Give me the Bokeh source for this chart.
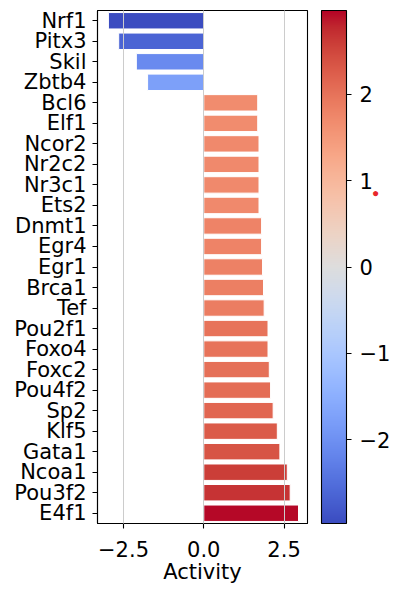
import numpy as np
from bokeh.plotting import figure
from bokeh.models import (ColumnDataSource, FactorRange, Range1d, FixedTicker,
                          CustomJSTickFormatter, LinearColorMapper, ColorBar, Label)
from bokeh.embed import file_html
from bokeh.resources import INLINE

# ---- data ----
names = ["Nrf1", "Pitx3", "Skil", "Zbtb4", "Bcl6", "Elf1", "Ncor2", "Nr2c2", "Nr3c1",
         "Ets2", "Dnmt1", "Egr4", "Egr1", "Brca1", "Tef", "Pou2f1", "Foxo4", "Foxc2",
         "Pou4f2", "Sp2", "Klf5", "Gata1", "Ncoa1", "Pou3f2", "E4f1"]
activity = [-2.97, -2.65, -2.10, -1.75, 1.68, 1.68, 1.72, 1.72, 1.72,
            1.72, 1.80, 1.80, 1.83, 1.86, 1.88, 2.00, 2.00, 2.04,
            2.08, 2.16, 2.29, 2.37, 2.60, 2.69, 2.95]
x_ticks = [-2.5, 0.0, 2.5]
cbar_ticks = [-2, -1, 0, 1, 2]
axis_title = "Activity"

# coolwarm reference table (Moreland)
cw = np.array([
    [59, 76, 192], [68, 90, 204], [77, 104, 215], [87, 117, 225], [98, 130, 234],
    [108, 142, 241], [119, 154, 247], [130, 165, 251], [141, 176, 254], [152, 185, 255],
    [163, 194, 255], [174, 201, 253], [184, 208, 249], [194, 213, 244], [204, 217, 238],
    [213, 219, 230], [221, 221, 221], [229, 216, 209], [236, 211, 197], [241, 204, 185],
    [245, 196, 173], [247, 187, 160], [247, 177, 148], [247, 166, 135], [244, 154, 123],
    [241, 141, 111], [236, 127, 99], [229, 112, 88], [222, 96, 77], [213, 80, 66],
    [203, 62, 56], [192, 40, 47], [180, 4, 38]], dtype=float)
cw_pos = np.linspace(0, 1, len(cw))


def coolwarm(t):
    t = min(max(t, 0.0), 1.0)
    rgb = [np.interp(t, cw_pos, cw[:, k]) for k in range(3)]
    return "#%02x%02x%02x" % tuple(int(round(c)) for c in rgb)


vmax = max(abs(v) for v in activity)
colors = [coolwarm((v + vmax) / (2 * vmax)) for v in activity]
palette = [coolwarm(i / 255) for i in range(256)]

src = ColumnDataSource(dict(name=names, activity=activity, color=colors))

FONT = "DejaVu Sans"
FS = "21px"

p = figure(y_range=FactorRange(factors=list(reversed(names))),
           x_range=Range1d(-3.31, 3.23),
           frame_width=210, frame_height=513,
           min_border_left=97, min_border_top=10, min_border_right=92, min_border_bottom=66,
           output_backend="svg", toolbar_location=None)

p.hbar(y="name", right="activity", left=0, height=0.8, source=src,
       fill_color="color", line_color="white", line_width=1)

p.outline_line_color = "black"
p.outline_line_width = 1.1
p.background_fill_color = "white"
p.border_fill_color = "white"

p.ygrid.visible = False
p.xgrid.grid_line_color = "#cccccc"
p.xgrid.grid_line_width = 1
p.xgrid.level = "overlay"
p.xaxis.ticker = FixedTicker(ticks=x_ticks)
p.xgrid.ticker = FixedTicker(ticks=x_ticks)
p.xaxis.formatter = CustomJSTickFormatter(code="return tick.toFixed(1).replace('-', '\u2212');")

for ax in (p.xaxis[0], p.yaxis[0]):
    ax.major_label_text_font = FONT
    ax.major_label_text_font_size = FS
    ax.major_label_text_color = "black"
    ax.axis_line_color = "black"
    ax.axis_line_width = 1.1
    ax.major_tick_line_color = "black"
    ax.major_tick_line_width = 1.1
    ax.major_tick_out = 5
    ax.major_tick_in = 0
    ax.minor_tick_line_color = None

p.yaxis.major_label_standoff = 6
p.xaxis.major_label_standoff = 12

p.xaxis.axis_label = axis_title
p.xaxis.axis_label_text_font = FONT
p.xaxis.axis_label_text_font_size = FS
p.xaxis.axis_label_text_font_style = "normal"
p.xaxis.axis_label_text_color = "black"
p.xaxis.axis_label_standoff = 0

mapper = LinearColorMapper(palette=palette, low=-vmax, high=vmax)
cb = ColorBar(color_mapper=mapper, width=25, height=513, padding=0, margin=0,
              location=(14, 0),
              ticker=FixedTicker(ticks=cbar_ticks),
              formatter=CustomJSTickFormatter(code="return tick.toFixed(0).replace('-', '\u2212');"),
              bar_line_color="black", bar_line_width=1.1,
              border_line_color=None, background_fill_color=None,
              major_tick_line_color="black", major_tick_line_width=1.1,
              major_tick_in=0, major_tick_out=5, minor_tick_line_color=None,
              label_standoff=8,
              major_label_text_font=FONT, major_label_text_font_size=FS,
              major_label_text_color="black")
p.add_layout(cb, "right")

# small red marker beside the colour bar
dot = Label(x=-18, y=331, x_units="screen", y_units="screen", text="\u25cf",
            text_color="#e8262a", text_font_size="12px", text_align="center",
            text_baseline="middle", level="overlay")
p.add_layout(dot, "right")

open("out.html", "w").write(file_html(p, INLINE))
